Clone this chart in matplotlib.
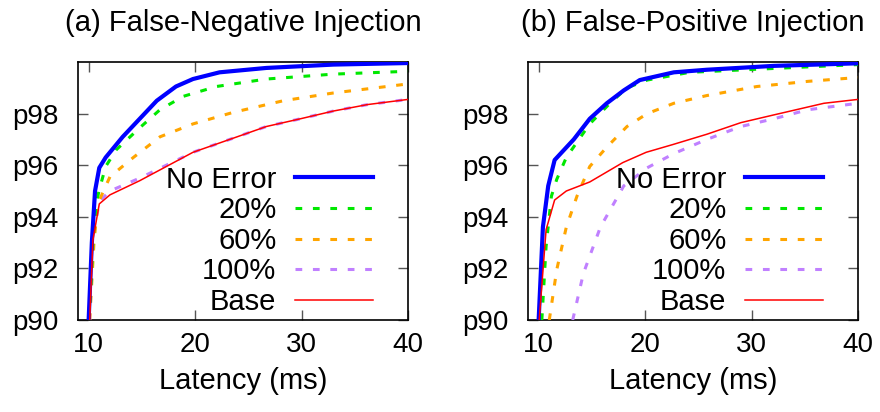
import matplotlib
matplotlib.use("Agg")
import matplotlib.pyplot as plt

plt.rcParams['font.family'] = ['Liberation Sans', 'DejaVu Sans']

titles = ["(a) False-Negative Injection", "(b) False-Positive Injection"]
labels = ["No Error", "20%", "60%", "100%", "Base"]
xticks = [10, 20, 30, 40]
yticks = [90, 92, 94, 96, 98]
yticklabels = ["p90", "p92", "p94", "p96", "p98"]

# Panel (a)
a_noerr_x = [10.0, 10.3, 10.6, 11.0, 11.6, 13.2, 14.8, 16.4, 18.2, 19.8, 22.3, 26.7, 33.0, 40.0]
a_noerr_y = [90.0, 93.0, 95.0, 95.9, 96.3, 97.1, 97.8, 98.5, 99.05, 99.34, 99.6, 99.77, 99.9, 99.96]
a_20_x = [10.05, 10.4, 10.7, 11.0, 11.6, 12.6, 14.8, 16.7, 18.9, 22.0, 26.7, 33.0, 40.0]
a_20_y = [90.0, 93.0, 94.5, 95.05, 95.95, 96.6, 97.45, 98.15, 98.67, 99.05, 99.34, 99.53, 99.64]
a_60_x = [10.1, 10.5, 10.85, 12.0, 14.2, 16.7, 19.8, 23.6, 28.3, 33.0, 40.0]
a_60_y = [90.0, 93.0, 94.5, 95.55, 96.3, 97.1, 97.6, 98.05, 98.5, 98.8, 99.15]
a_100_x = [10.1, 10.4, 11.0, 12.0, 14.8, 17.3, 19.8, 23.6, 26.7, 29.9, 33.0, 36.2, 40.0]
a_100_y = [90.0, 93.1, 94.6, 95.0, 95.5, 96.0, 96.5, 97.05, 97.5, 97.8, 98.1, 98.35, 98.55]
a_base_x = [10.1, 10.4, 11.0, 12.0, 14.8, 17.3, 19.8, 23.6, 26.7, 29.9, 33.0, 36.2, 40.0]
a_base_y = [90.0, 93.1, 94.5, 94.85, 95.4, 95.95, 96.5, 97.05, 97.5, 97.8, 98.1, 98.35, 98.55]

# Panel (b)
b_noerr_x = [10.0, 10.4, 10.9, 11.5, 13.3, 14.8, 16.4, 18.0, 19.5, 22.7, 25.8, 32.1, 40.0]
b_noerr_y = [90.0, 93.6, 95.2, 96.2, 97.0, 97.8, 98.4, 98.9, 99.3, 99.6, 99.7, 99.85, 99.95]
b_20_x = [10.3, 10.7, 11.2, 11.7, 12.6, 14.8, 16.7, 18.3, 20.2, 24.2, 32.1, 40.0]
b_20_y = [90.0, 92.85, 94.8, 95.45, 96.3, 97.6, 98.4, 99.0, 99.3, 99.6, 99.75, 99.9]
b_60_x = [11.0, 11.7, 12.6, 13.6, 14.8, 16.4, 18.3, 20.2, 22.7, 25.8, 30.5, 35.3, 40.0]
b_60_y = [90.0, 91.95, 93.6, 94.8, 95.95, 96.7, 97.5, 98.0, 98.4, 98.7, 99.05, 99.25, 99.4]
b_100_x = [13.2, 14.2, 15.8, 18.0, 20.2, 22.7, 25.8, 29.0, 32.1, 35.3, 40.0]
b_100_y = [90.0, 91.8, 93.6, 95.2, 95.9, 96.45, 97.0, 97.5, 97.8, 98.15, 98.4]
b_base_x = [10.05, 10.7, 11.5, 12.6, 14.8, 17.9, 20.1, 22.6, 25.8, 29.0, 32.1, 36.8, 40.0]
b_base_y = [90.0, 93.5, 94.65, 95.0, 95.35, 96.1, 96.5, 96.8, 97.2, 97.65, 97.95, 98.4, 98.55]

panels = [
    [(a_noerr_x, a_noerr_y), (a_20_x, a_20_y), (a_60_x, a_60_y), (a_100_x, a_100_y), (a_base_x, a_base_y)],
    [(b_noerr_x, b_noerr_y), (b_20_x, b_20_y), (b_60_x, b_60_y), (b_100_x, b_100_y), (b_base_x, b_base_y)],
]

colors = ["#0000ff", "#00e800", "#ffa500", "#c080ff", "#ff0000"]
widths = [3.0, 2.2, 2.2, 2.2, 1.1]
styles = ["-", (0, (2.2, 3.5)), (0, (2.2, 3.5)), (0, (2.2, 3.5)), "-"]
zorders = [6, 5, 4, 3, 7]

FS = 21
fig = plt.figure(figsize=(8.8, 4.12), dpi=100)
W, H = 880.0, 412.0
lefts = [78, 528]
for i, left in enumerate(lefts):
    ax = fig.add_axes([left / W, (H - 320) / H, 330 / W, 258 / H])
    for j, (xs, ys) in enumerate(panels[i]):
        ax.plot(xs, ys, color=colors[j], lw=widths[j], linestyle=styles[j],
                label=labels[j], zorder=zorders[j])
    ax.set_xlim(9, 40)
    ax.set_ylim(90, 100)
    ax.set_xticks(xticks)
    ax.set_yticks(yticks)
    ax.set_yticklabels(yticklabels)
    ax.tick_params(direction='in', length=7, width=1.0, color='#555555',
                   top=True, right=True, labelsize=FS - 1, pad=9)
    ax.tick_params(axis='y', pad=14)
    for s in ax.spines.values():
        s.set_linewidth(1.2)
    ax.set_xlabel("Latency (ms)", fontsize=FS, labelpad=6)
    ax.set_title(titles[i], fontsize=FS, pad=22)
    leg = ax.legend(loc='lower right', bbox_to_anchor=(0.93, -0.03), frameon=False,
                    fontsize=FS, markerfirst=False, handlelength=2.67,
                    handletextpad=0.65, labelspacing=0.09, borderaxespad=0.0)

fig.savefig("out.png", dpi=100)
